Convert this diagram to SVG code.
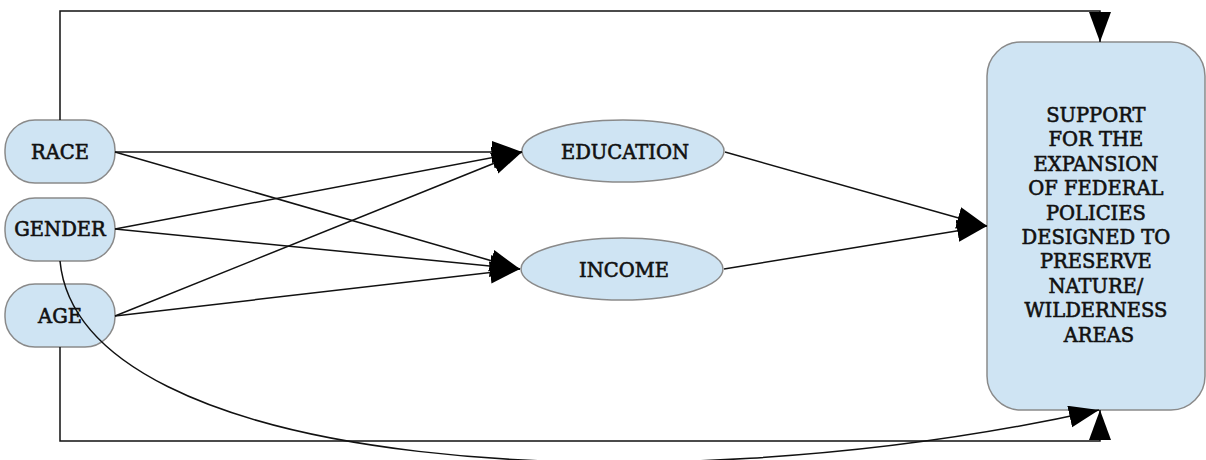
<svg xmlns="http://www.w3.org/2000/svg" width="1206" height="460" viewBox="0 0 1206 460">
  <style>
    .node { fill: #cfe4f3; stroke: #8a8a8a; stroke-width: 1.5; }
    .label { font-family: "DejaVu Serif", "Liberation Serif", serif; font-size: 19.5px; fill: #111; stroke: #111; stroke-width: 0.6; text-anchor: middle; }
    .edge { fill: none; stroke: #111; stroke-width: 1.5; }
  </style>
  <defs>
    <marker id="arrow" markerUnits="userSpaceOnUse" markerWidth="32" markerHeight="24" refX="30" refY="11" orient="auto">
      <path d="M0,0 L30,11 L0,22 z" fill="#000"/>
    </marker>
  </defs>

  <g id="race">
    <rect class="node" x="5" y="120" width="110" height="63" rx="30" ry="30"/>
    <text class="label" x="60" y="159">RACE</text>
  </g>
  <g id="gender">
    <rect class="node" x="5" y="198" width="110" height="63" rx="30" ry="30"/>
    <text class="label" x="60" y="236">GENDER</text>
  </g>
  <g id="age">
    <rect class="node" x="5" y="284" width="110" height="63" rx="30" ry="30"/>
    <text class="label" x="60" y="323">AGE</text>
  </g>
  <g id="education">
    <ellipse class="node" cx="623" cy="151" rx="101" ry="31"/>
    <text class="label" x="625" y="159">EDUCATION</text>
  </g>
  <g id="income">
    <ellipse class="node" cx="622" cy="269" rx="101" ry="31"/>
    <text class="label" x="624" y="277">INCOME</text>
  </g>
  <g id="support">
    <rect class="node" x="987" y="42" width="218" height="368" rx="34" ry="34"/>
    <text class="label">
      <tspan x="1099" y="122">SUPPORT</tspan>
      <tspan x="1099" y="146.4">FOR THE</tspan>
      <tspan x="1099" y="170.8">EXPANSION</tspan>
      <tspan x="1099" y="195.2">OF FEDERAL</tspan>
      <tspan x="1099" y="219.6">POLICIES</tspan>
      <tspan x="1099" y="244">DESIGNED TO</tspan>
      <tspan x="1099" y="268.4">PRESERVE</tspan>
      <tspan x="1099" y="292.8">NATURE/</tspan>
      <tspan x="1099" y="317.2">WILDERNESS</tspan>
      <tspan x="1099" y="341.6">AREAS</tspan>
    </text>
  </g>

  <g id="connectors">
    <!-- inputs to mediators -->
    <line class="edge" x1="115" y1="152" x2="522" y2="152" marker-end="url(#arrow)"/>
    <line class="edge" x1="115" y1="152" x2="520" y2="269" marker-end="url(#arrow)"/>
    <line class="edge" x1="115" y1="229" x2="522" y2="152" marker-end="url(#arrow)"/>
    <line class="edge" x1="115" y1="229" x2="520" y2="269" marker-end="url(#arrow)"/>
    <line class="edge" x1="115" y1="316" x2="522" y2="152" marker-end="url(#arrow)"/>
    <line class="edge" x1="115" y1="316" x2="520" y2="269" marker-end="url(#arrow)"/>
    <!-- mediators to outcome -->
    <line class="edge" x1="725" y1="152" x2="987" y2="226" marker-end="url(#arrow)"/>
    <line class="edge" x1="724" y1="269" x2="987" y2="226" marker-end="url(#arrow)"/>
    <!-- direct paths -->
    <polyline class="edge" points="60,120 60,11 1100,11 1100,42" marker-end="url(#arrow)"/>
    <polyline class="edge" points="60,347 60,441 1100,441 1100,410" marker-end="url(#arrow)"/>
    <path class="edge" d="M60,261 C80,470 650,510 1099,410" marker-end="url(#arrow)"/>
  </g>
</svg>
